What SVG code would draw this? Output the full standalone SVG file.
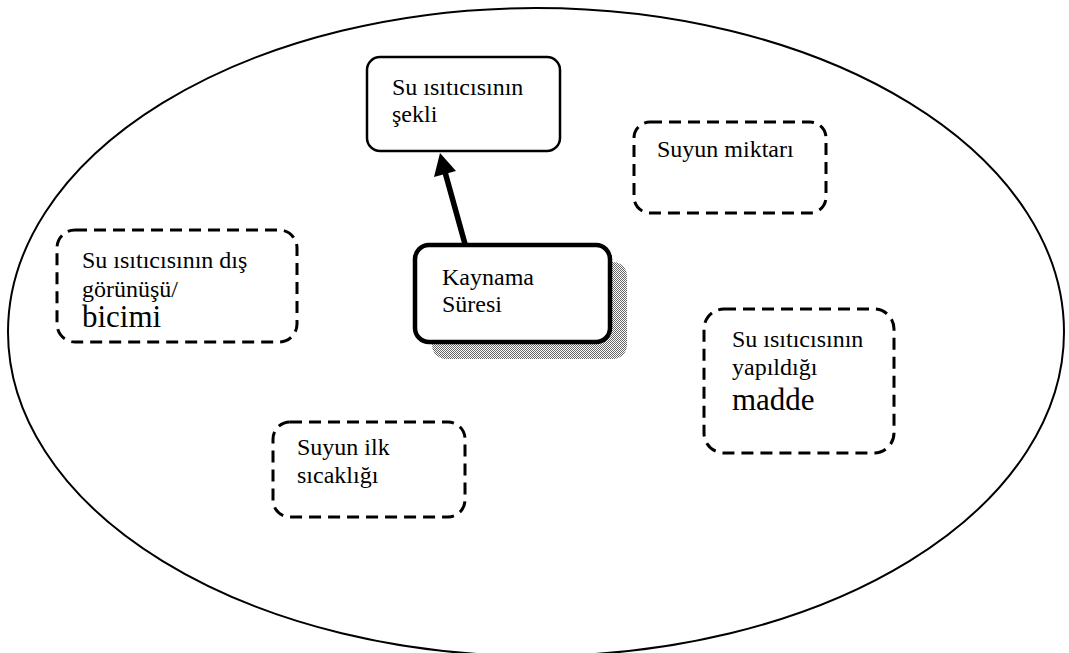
<svg xmlns="http://www.w3.org/2000/svg" width="1069" height="653" viewBox="0 0 1069 653">
  <defs>
    <pattern id="dots" width="2" height="2" patternUnits="userSpaceOnUse">
      <rect width="2" height="2" fill="#fff"/>
      <rect width="1" height="1" fill="#666"/>
      <rect x="1" y="1" width="1" height="1" fill="#666"/>
    </pattern>
    <clipPath id="clipLeft">
      <rect x="57" y="230" width="240" height="97"/>
    </clipPath>
  </defs>
  <style>
    .solid { fill: #fff; stroke: #000; stroke-width: 2.5; }
    .bold { fill: #fff; stroke: #000; stroke-width: 4.5; }
    .dash { fill: #fff; stroke: #000; stroke-width: 3; stroke-dasharray: 12 7; }
    text { font-family: "Liberation Serif", "Times New Roman", serif; font-size: 24px; fill: #000; }
    .big { font-size: 31px; }
  </style>

  <rect width="1069" height="653" fill="#fff"/>

  <!-- outer boundary -->
  <ellipse cx="536" cy="332" rx="528" ry="324" fill="none" stroke="#000" stroke-width="2"/>

  <g id="node-sekli">
    <rect class="solid" x="367" y="57" width="193" height="94" rx="13"/>
    <text x="392" y="95">Su ısıtıcısının</text>
    <text x="392" y="122">şekli</text>
  </g>

  <g id="node-miktar">
    <rect class="dash" x="634" y="122" width="192" height="91" rx="16"/>
    <text x="657" y="157">Suyun miktarı</text>
  </g>

  <g id="node-dis">
    <rect class="dash" x="57" y="230" width="240" height="112" rx="18"/>
    <text x="82" y="268">Su ısıtıcısının dış</text>
    <text x="82" y="297">görünüşü/</text>
    <text class="big" x="82" y="327" clip-path="url(#clipLeft)">biçimi</text>
  </g>

  <g id="node-kaynama">
    <rect x="432" y="262" width="195" height="97" rx="14" fill="url(#dots)"/>
    <rect class="bold" x="415" y="245" width="195" height="97" rx="14"/>
    <text x="442" y="285">Kaynama</text>
    <text x="442" y="312">Süresi</text>
  </g>

  <g id="node-madde">
    <rect class="dash" x="704" y="309" width="190" height="144" rx="20"/>
    <text x="732" y="347">Su ısıtıcısının</text>
    <text x="732" y="375">yapıldığı</text>
    <text class="big" x="732" y="410">madde</text>
  </g>

  <g id="node-sicaklik">
    <rect class="dash" x="273" y="422" width="192" height="95" rx="17"/>
    <text x="297" y="455">Suyun ilk</text>
    <text x="297" y="483">sıcaklığı</text>
  </g>

  <g id="connectors">
    <line x1="465" y1="244" x2="445" y2="172" stroke="#000" stroke-width="5.5"/>
    <polygon points="440,153 456,171 434,177" fill="#000"/>
  </g>
</svg>
